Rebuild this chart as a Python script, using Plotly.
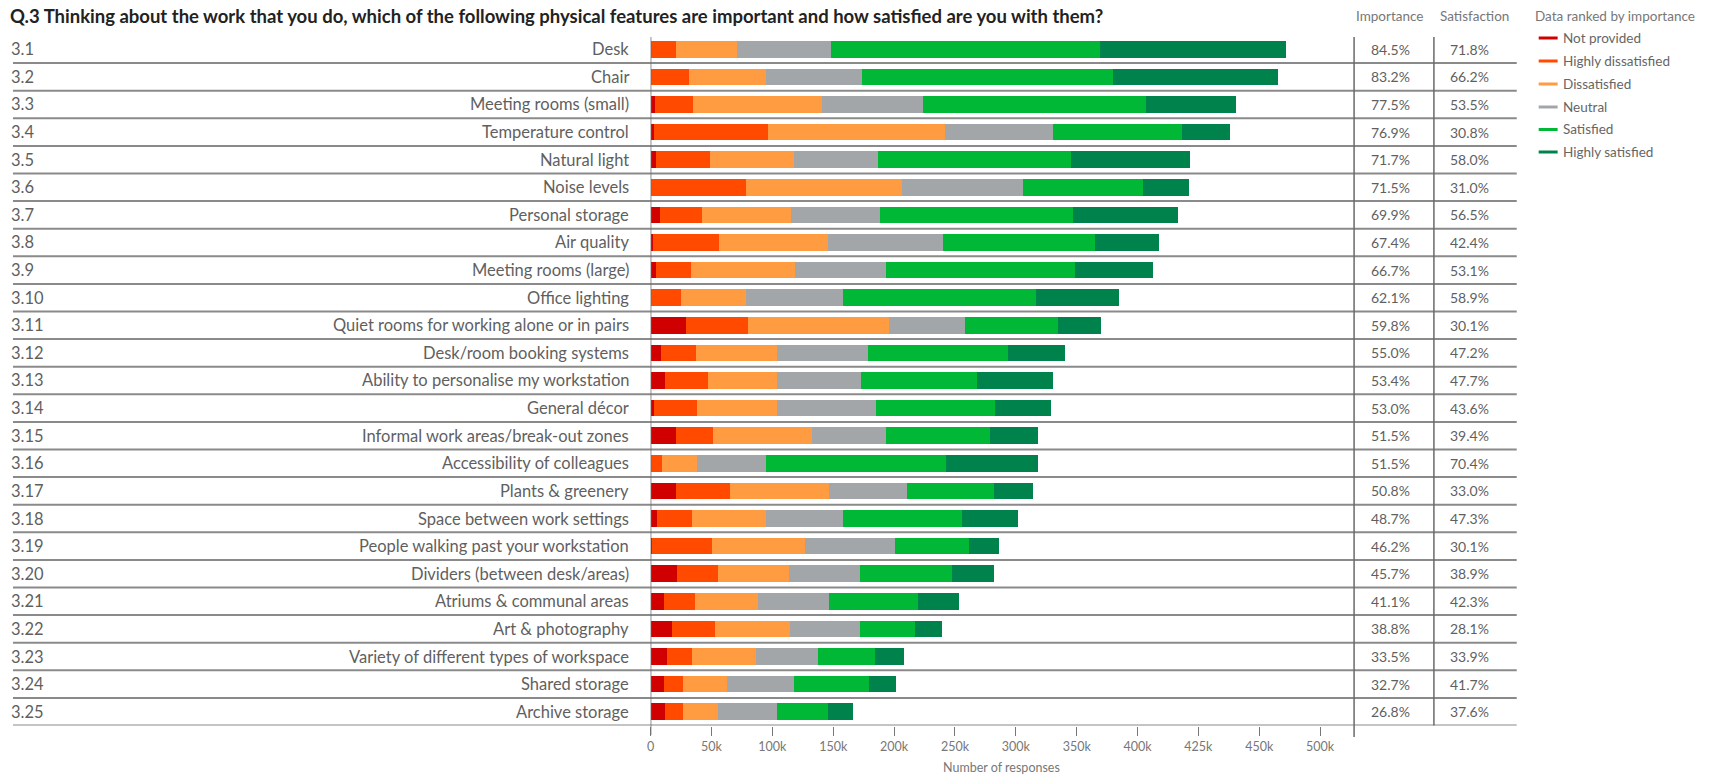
import plotly.graph_objects as go

# ---------------- data ----------------
codes = [f"3.{i}" for i in range(1, 26)]
features = [
    "Desk", "Chair", "Meeting rooms (small)", "Temperature control", "Natural light",
    "Noise levels", "Personal storage", "Air quality", "Meeting rooms (large)",
    "Office lighting", "Quiet rooms for working alone or in pairs",
    "Desk/room booking systems", "Ability to personalise my workstation",
    "General décor", "Informal work areas/break-out zones",
    "Accessibility of colleagues", "Plants & greenery", "Space between work settings",
    "People walking past your workstation", "Dividers (between desk/areas)",
    "Atriums & communal areas", "Art & photography",
    "Variety of different types of workspace", "Shared storage", "Archive storage",
]
# number of responses, in thousands
not_provided = [0, 0, 3.7, 2.9, 4.4, 0, 7.7, 1.8, 4.4, 0, 29.4, 8.2, 11.5, 2.4, 20.6,
                0, 20.6, 4.9, 1.4, 22, 11, 17.6, 13.7, 11, 11.8]
highly_dissatisfied = [21, 31.6, 30.9, 93.4, 44.1, 78, 34.2, 54.5, 28.6, 25, 50.6, 29.2,
                       35.3, 35.6, 30.9, 9.1, 44.5, 29.1, 49.4, 33.5, 25.2, 35.4, 20.3,
                       15.6, 15.1]
dissatisfied = [50.3, 63.6, 106.2, 145.3, 69.5, 128.6, 73.2, 89.3, 85.6, 53, 116.2, 66.2,
                57.4, 65.9, 80.9, 29.1, 81.8, 60.7, 75.8, 58.2, 52.2, 61.5, 52.8, 36.3, 28.8]
neutral = [76.5, 78.7, 82.8, 88.6, 68.4, 99.3, 73.2, 94.9, 75, 79.7, 62.4, 75.3, 68.5,
           81.4, 61.2, 56.5, 63.7, 63.7, 73.9, 58.7, 58.5, 57.4, 51, 55.2, 48.1]
satisfied = [221, 206.3, 183.1, 106.6, 159.2, 98.6, 158.8, 124.7, 155, 159.2, 75.9, 114.7,
             95.3, 98, 85.3, 147.7, 71.4, 97.8, 60.9, 75, 72.8, 45.3, 46.2, 61.2, 42.3]
highly_satisfied = [153.2, 135.3, 73.9, 39.4, 97.5, 37.8, 86.1, 52.1, 64.5, 67.9, 35.6,
                    46.5, 62.7, 45.3, 39.7, 76.2, 32.4, 45.6, 24.5, 34.6, 34, 22, 23.9,
                    22.5, 19.8]
importance = ["84.5%", "83.2%", "77.5%", "76.9%", "71.7%", "71.5%", "69.9%", "67.4%",
              "66.7%", "62.1%", "59.8%", "55.0%", "53.4%", "53.0%", "51.5%", "51.5%",
              "50.8%", "48.7%", "46.2%", "45.7%", "41.1%", "38.8%", "33.5%", "32.7%",
              "26.8%"]
satisfaction = ["71.8%", "66.2%", "53.5%", "30.8%", "58.0%", "31.0%", "56.5%", "42.4%",
                "53.1%", "58.9%", "30.1%", "47.2%", "47.7%", "43.6%", "39.4%", "70.4%",
                "33.0%", "47.3%", "30.1%", "38.9%", "42.3%", "28.1%", "33.9%", "41.7%",
                "37.6%"]
series_names = ["Not provided", "Highly dissatisfied", "Dissatisfied", "Neutral",
                "Satisfied", "Highly satisfied"]
series_values = [not_provided, highly_dissatisfied, dissatisfied, neutral, satisfied,
                 highly_satisfied]
series_colors = ["#d10000", "#ff4a00", "#ff9b40", "#a3a6a8", "#00b836", "#00824c"]
tick_vals = [0, 50, 100, 150, 200, 250, 300, 350, 400, 450, 500, 550]
tick_text = ["0", "50k", "100k", "150k", "200k", "250k", "300k", "350k", "400k", "425k",
             "450k", "500k"]

title = ("Q.3 Thinking about the work that you do, which of the following physical "
         "features are important and how satisfied are you with them?")

# ---------------- layout helpers ----------------
W, H = 1718, 777
SX = 1.009   # small horizontal correction


def px(x):  # page x -> paper
    return x * SX / W


def py(y):  # page y -> paper
    return 1 - y / H


FONT = "Lato"
TXT = "#5f5f5f"

fig = go.Figure()
for name, vals, col in zip(series_names, series_values, series_colors):
    fig.add_trace(go.Bar(
        y=features, x=vals, name=name, orientation="h",
        marker=dict(color=col, line=dict(width=0)), width=0.6, showlegend=False,
        hovertemplate="%{y}<br>" + name + ": %{x}k<extra></extra>",
    ))

shapes = []
annotations = []
n = len(features)

# row separators
for i in range(n):
    shapes.append(dict(type="line", xref="paper", yref="y", x0=px(9), x1=px(1516),
                       y0=i + 0.5, y1=i + 0.5, line=dict(color="#8a8a8a", width=2)))
# zero axis line
shapes.append(dict(type="line", xref="x", yref="paper", x0=0, x1=0, y0=py(735),
                   y1=py(37), line=dict(color="#6a6a6a", width=1.5)))
# table vertical lines
shapes.append(dict(type="line", xref="paper", yref="paper", x0=px(1353), x1=px(1353),
                   y0=py(737), y1=py(37), line=dict(color="#6a6a6a", width=1.5)))
shapes.append(dict(type="line", xref="paper", yref="paper", x0=px(1433), x1=px(1433),
                   y0=py(725.5), y1=py(37), line=dict(color="#6a6a6a", width=1.5)))

for i in range(n):
    annotations.append(dict(xref="paper", yref="y", x=px(5), y=i, text=codes[i],
                            showarrow=False, xanchor="left", yanchor="middle",
                            font=dict(family=FONT, size=16.5, color=TXT)))
    annotations.append(dict(xref="paper", yref="y", x=px(628), y=i, text=features[i],
                            showarrow=False, xanchor="right", yanchor="middle",
                            font=dict(family=FONT, size=16.5, color=TXT)))
    annotations.append(dict(xref="paper", yref="y", x=px(1389), y=i, text=importance[i],
                            showarrow=False, xanchor="center", yanchor="middle",
                            font=dict(family=FONT, size=14, color=TXT)))
    annotations.append(dict(xref="paper", yref="y", x=px(1469), y=i, text=satisfaction[i],
                            showarrow=False, xanchor="center", yanchor="middle",
                            font=dict(family=FONT, size=14, color=TXT)))

# title and headers
annotations.append(dict(xref="paper", yref="paper", x=px(4), y=py(16),
                        text="<b>" + title + "</b>", showarrow=False, xanchor="left",
                        yanchor="middle", font=dict(family=FONT, size=18.5, color="#222222")))
annotations.append(dict(xref="paper", yref="paper", x=px(1388), y=py(16), text="Importance",
                        showarrow=False, xanchor="center", yanchor="middle",
                        font=dict(family=FONT, size=13.5, color="#777777")))
annotations.append(dict(xref="paper", yref="paper", x=px(1474), y=py(16),
                        text="Satisfaction", showarrow=False, xanchor="center",
                        yanchor="middle", font=dict(family=FONT, size=13.5, color="#777777")))
annotations.append(dict(xref="paper", yref="paper", x=px(1532), y=py(16),
                        text="Data ranked by importance", showarrow=False, xanchor="left",
                        yanchor="middle", font=dict(family=FONT, size=13.5, color="#777777")))
# custom legend
leg_y = [38, 61, 84, 107, 129.5, 152]
for name, col, yy in zip(series_names, series_colors, leg_y):
    shapes.append(dict(type="line", xref="paper", yref="paper", x0=px(1538), x1=px(1557),
                       y0=py(yy), y1=py(yy), line=dict(color=col, width=3)))
    annotations.append(dict(xref="paper", yref="paper", x=px(1560), y=py(yy), text=name,
                            showarrow=False, xanchor="left", yanchor="middle",
                            font=dict(family=FONT, size=13.5, color="#666666")))
# x axis title
annotations.append(dict(xref="paper", yref="paper", x=px(1000), y=py(767),
                        text="Number of responses", showarrow=False, xanchor="center",
                        yanchor="middle", font=dict(family=FONT, size=12.5, color="#777777")))

fig.update_layout(
    width=W, height=H, margin=dict(l=0, r=0, t=0, b=0),
    barmode="stack", bargap=0.4,
    plot_bgcolor="white", paper_bgcolor="white",
    shapes=shapes, annotations=annotations,
    xaxis=dict(domain=[px(648), px(1319)], range=[0, 550], tickvals=tick_vals,
               ticktext=tick_text, ticks="outside", ticklen=9, tickwidth=1,
               tickcolor="#777777", showgrid=False, zeroline=False, showline=False,
               tickfont=dict(family=FONT, size=12.5, color="#777777"), fixedrange=True),
    yaxis=dict(domain=[py(725.5), py(35.5)], range=[n - 0.5, -0.5], showticklabels=False,
               showgrid=False, zeroline=False, showline=False, ticks="", fixedrange=True),
)

fig.write_html(
    "out.html",
    config={"displayModeBar": False},
    post_script=("document.body.style.margin='0px';"
                 "document.documentElement.style.overflow='hidden';"
                 "document.body.style.overflow='hidden';"),
)
